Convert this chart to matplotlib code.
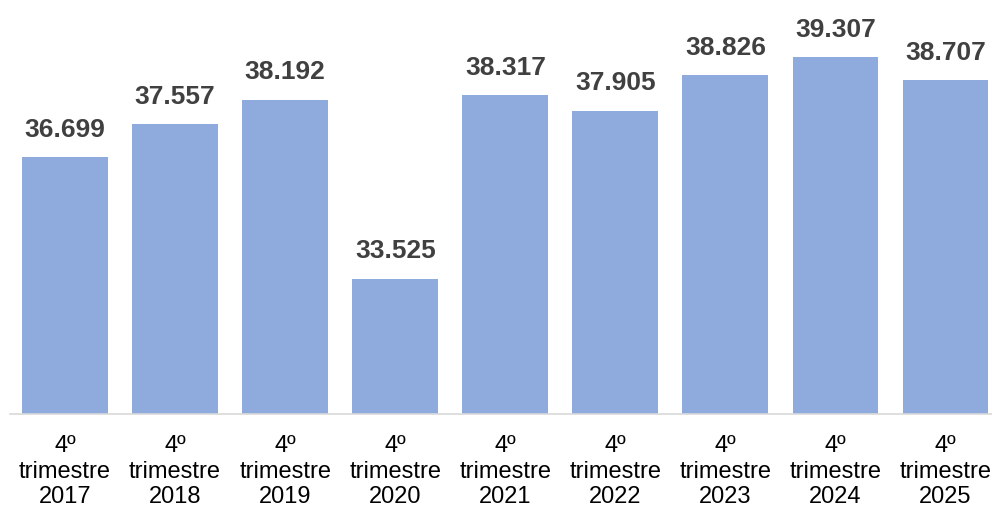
import matplotlib.pyplot as plt

plt.rcParams['font.family'] = ['Liberation Sans', 'DejaVu Sans']

years = ["2017", "2018", "2019", "2020", "2021", "2022", "2023", "2024", "2025"]
values = [36.699, 37.557, 38.192, 33.525, 38.317, 37.905, 38.826, 39.307, 38.707]
value_labels = ["36.699", "37.557", "38.192", "33.525", "38.317",
                "37.905", "38.826", "39.307", "38.707"]
tick_labels = [f"4º\ntrimestre\n{y}" for y in years]

fig = plt.figure(figsize=(9.92, 5.08), dpi=100)
ax = fig.add_axes([10 / 992, 94 / 508, 982 / 992, 414 / 508])

x = list(range(len(values)))
ax.bar(x, values, width=0.78, color="#8FAADC")
ax.set_ylim(30, 40.79)
ax.set_xlim(-0.5, 8.422)

# value labels above each bar
for xi, v, lab in zip(x, values, value_labels):
    ax.annotate(lab, (xi, v), xytext=(0, 11), textcoords="offset points",
                ha="center", va="bottom", fontsize=19, fontweight="bold",
                color="#404040")

ax.set_xticks(x)
ax.set_xticklabels(tick_labels, fontsize=17, linespacing=1.22, color="black")
ax.tick_params(axis="x", length=0, pad=15)
ax.set_yticks([])
for s in ["top", "right", "left"]:
    ax.spines[s].set_visible(False)
ax.spines["bottom"].set_color("#D9D9D9")
ax.spines["bottom"].set_linewidth(1.2)

fig.savefig("out.png", dpi=100)
